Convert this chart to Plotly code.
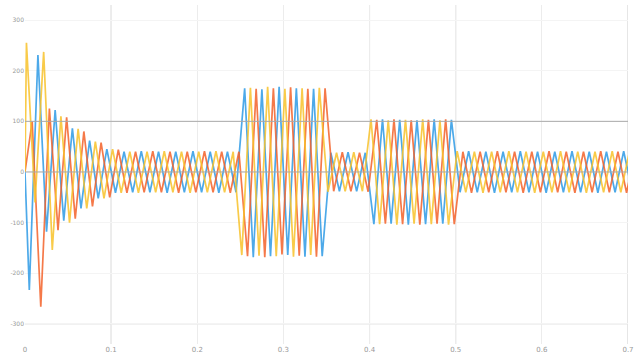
import plotly.graph_objects as go

# ---- data ----
freq_hz = 50
# time of first extremum for each phase (s); following extrema every half cycle
offset_blue = 0.005
offset_orange = 0.00833
offset_yellow = 0.00167
t_start = 0.0
start_value = 0

peaks_blue = [-233, 231, -118, 122, -96, 86, -72, 62, -52, 45,
              -41, 40, -40, 41, -40, 40, -41, 40, -40, 41, -40, 40, -41, 40, -40,
              165, -168, 163, -166, 168, -164, 165, -167, 164, -166,
              38, -38, 39, -38, 38,
              -103, 104, -102, 103, -104, 102, -103, 104, -102, 103,
              -40, 41, -40, 40, -41, 40, -40, 41, -40, 40, -41, 40, -40, 41, -40, 40, -41, 40, -40, 41, -40]

peaks_orange = [100, -266, 125, -115, 108, -92, 80, -68, 58, -50,
                44, -41, 40, -40, 41, -40, 40, -41, 40, -40, 41, -40, 40, -41, 40,
                -166, 164, -168, 165, -163, 167, -165, 164, -167, 165,
                -38, 39, -38, 38, -39,
                103, -102, 104, -103, 102, -104, 103, -102, 104, -103,
                40, -41, 40, -40, 41, -40, 40, -41, 40, -40, 41, -40, 40, -41, 40, -40, 41, -40, 40, -41, 40]

peaks_yellow = [255, -60, 237, -154, 110, -100, 85, -72, 60, -52,
                45, -41, 40, -41, 40, -40, 41, -40, 40, -41, 40, -40, 41, -40, 40,
                -164, 166, -165, 168, -166, 164, -167, 165, -164, 166,
                -39, 38, -38, 39, -38,
                104, -103, 102, -104, 103, -102, 104, -103, 102, -104,
                41, -40, 40, -41, 40, -40, 41, -40, 40, -41, 40, -40, 41, -40, 40, -41, 40, -40, 41, -40, 40]

x_tick_vals = [0, 0.1, 0.2, 0.3, 0.4, 0.5, 0.6, 0.7]
x_tick_text = ["0", "0.1", "0.2", "0.3", "0.4", "0.5", "0.6", "0.7"]
y_tick_vals = [300, 200, 100, 0, -100, -200, -300]
y_tick_text = ["300", "200", "100", "0", "-100", "-200", "-300"]
marked_x = [0.1, 0.4, 0.5]
marked_y = [0, 100]

half_period = 1.0 / (2 * freq_hz)


def series(offset, peaks):
    t = [t_start] + [offset + k * half_period for k in range(len(peaks))]
    v = [start_value] + list(peaks)
    return t, v


fig = go.Figure()
for name, off, pk, col in [
    ("A", offset_blue, peaks_blue, "#2E9BE6"),
    ("B", offset_orange, peaks_orange, "#F4622A"),
    ("C", offset_yellow, peaks_yellow, "#F8C22A"),
]:
    t, v = series(off, pk)
    fig.add_trace(go.Scatter(x=t, y=v, mode="lines", name=name,
                             line=dict(color=col, width=1.7), opacity=0.85,
                             showlegend=False))

shapes = []
for xv in marked_x:
    shapes.append(dict(type="line", xref="x", yref="paper", x0=xv, x1=xv, y0=0, y1=1,
                       line=dict(color="#cfcfcf", width=1), layer="below"))
shapes.append(dict(type="line", xref="x", yref="paper", x0=0.7, x1=0.7, y0=0, y1=1,
                   line=dict(color="#cccccc", width=1), layer="below"))
for yv in marked_y:
    shapes.append(dict(type="line", xref="paper", yref="y", x0=0, x1=1, y0=yv, y1=yv,
                       line=dict(color="#a9a9a9", width=1), layer="above"))
shapes.append(dict(type="line", xref="paper", yref="y", x0=0, x1=1, y0=-300, y1=-300,
                   line=dict(color="#e2e2e2", width=1), layer="below"))

fig.update_layout(
    width=636, height=358,
    margin=dict(l=25, r=8, t=5, b=14),
    paper_bgcolor="white", plot_bgcolor="white",
    shapes=shapes,
    xaxis=dict(range=[0, 0.7], tickvals=x_tick_vals, ticktext=x_tick_text,
               automargin=False,
               showgrid=True, gridcolor="#ececec", gridwidth=1, zeroline=False,
               showline=False, ticks="", tickfont=dict(size=7, color="#999999",
                                                       family="DejaVu Sans")),
    yaxis=dict(range=[-339.5, 329.6], tickvals=y_tick_vals, ticktext=y_tick_text,
               automargin=False,
               showgrid=True, gridcolor="#f4f4f4", gridwidth=1, zeroline=False,
               showline=False, ticks="", tickfont=dict(size=6, color="#999999",
                                                       family="DejaVu Sans")),
)

fig.write_html("out.html",
               config={"displayModeBar": False},
               post_script="document.body.style.margin='0px';"
                           "document.body.style.overflow='hidden';")
